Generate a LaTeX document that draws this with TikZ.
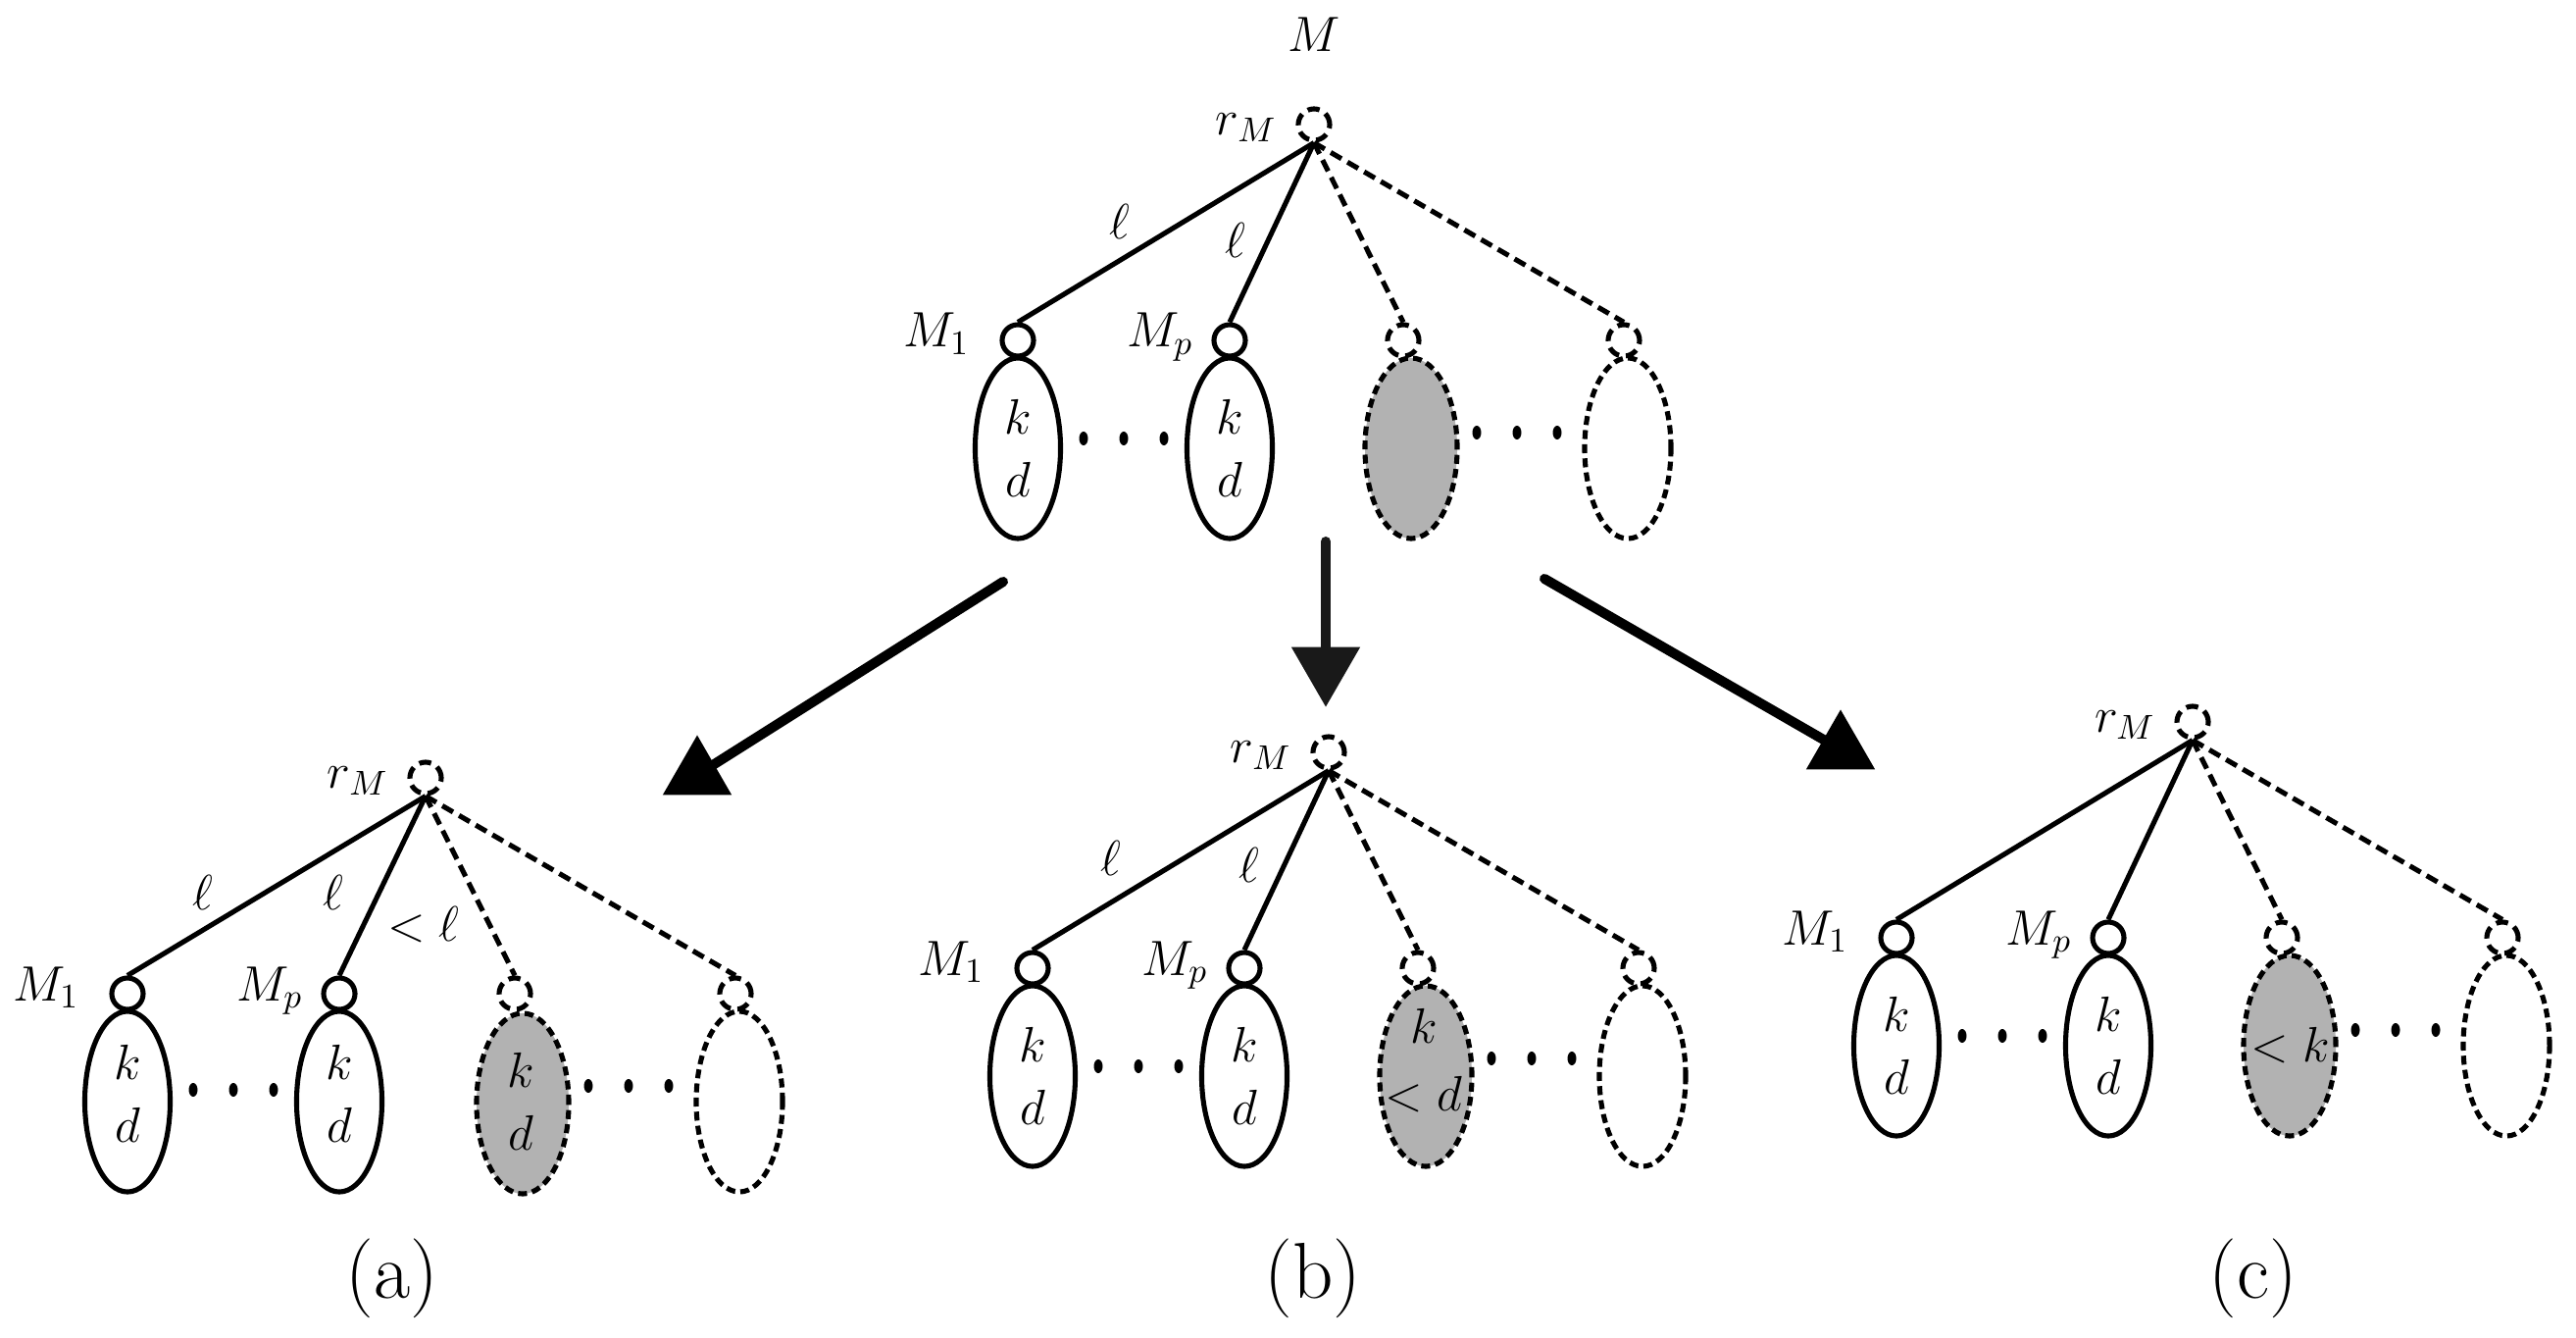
\documentclass[tikz,border=0pt]{standalone}
\usetikzlibrary{shapes.geometric}
\tikzset{
  lbl/.style={font=\fontsize{14.4}{18}\selectfont, inner sep=0pt},
  capt/.style={font=\fontsize{23}{28}\selectfont, inner sep=0pt},
  vtx/.style={circle, draw, line width=1.45pt, minimum size=0.32cm, inner sep=0pt},
  dvtx/.style={vtx, dash pattern=on 3.5pt off 2pt},
  blob/.style={ellipse, draw, line width=1.45pt, minimum width=0.87cm, minimum height=1.84cm, inner sep=0pt},
  dblob/.style={blob, dash pattern=on 2.6pt off 1.5pt, minimum width=0.88cm},
  gblob/.style={dblob, fill=black!30, minimum width=0.94cm},
  solidln/.style={line width=1.45pt},
  dashln/.style={line width=1.45pt, dash pattern=on 3.6pt off 2pt},
  dotn/.style={ellipse, fill, minimum width=0.09cm, minimum height=0.14cm, inner sep=0pt},
  bigarrow/.style={line width=2.85pt, line cap=round},
  head/.style={regular polygon, regular polygon sides=3, fill, minimum size=0.81cm, inner sep=0pt},
}
\begin{document}
\begin{tikzpicture}[x=0.01cm, y=-0.01cm]
\useasboundingbox (0,0) rectangle (2627,1364);

% ---------------- top tree ----------------
\node[lbl] (Mtop) at (1340,35) {$M$};
\begin{scope}[shift={(1340,127)}]
  \node[dvtx] (t-r) at (0,0) {};
  \node[lbl] (t-rl) at (-69,3) {$r_M$};
  \node[vtx] (t-1) at (-302,220) {};
  \node[vtx] (t-p) at (-86,220) {};
  \node[dvtx] (t-3) at (91,220) {};
  \node[dvtx] (t-4) at (316,220) {};
  \node[lbl, anchor=base] (t-1l) at (-385,227) {$M_1$};
  \node[lbl, anchor=base] (t-pl) at (-157,227) {$M_p$};
  \node[blob] (t-e1) at (-302,330) {};
  \node[blob] (t-ep) at (-86,330) {};
  \node[gblob] (t-e3) at (99,330) {};
  \node[dblob] (t-e4) at (320,330) {};
  \node[lbl, align=center] (t-x1) at (-302,330) {$k$\\$d$};
  \node[lbl, align=center] (t-xp) at (-86,330) {$k$\\$d$};
  \node[dotn] (t-d1) at (-235,320) {};
  \node[dotn] (t-d2) at (-194,320) {};
  \node[dotn] (t-d3) at (-153,320) {};
  \node[dotn] (t-d4) at (166,314) {};
  \node[dotn] (t-d5) at (207,314) {};
  \node[dotn] (t-d6) at (248,314) {};
  \draw[solidln] (t-r.south) -- (t-1.north);
  \draw[solidln] (t-r.south) -- (t-p.north);
  \draw[dashln] (t-r.south) -- (t-3.north);
  \draw[dashln] (t-r.south) -- (t-4.north);
  \node[lbl] (t-l1) at (-198,99) {$\ell$};
  \node[lbl] (t-l2) at (-80,118) {$\ell$};
\end{scope}

% ---------------- big arrows ----------------
\coordinate (la-s) at (1023,593);
\node[head] (la-h) at (711,790) {};
\draw[bigarrow] (la-s) -- (la-h.center);
\coordinate (da-s) at (1352,552);
\node[head, shape border rotate=180, black!90] (da-h) at (1352,680) {};
\draw[bigarrow, black!90] (da-s) -- (da-h.center);
\coordinate (ra-s) at (1575,590);
\node[head] (ra-h) at (1877,764) {};
\draw[bigarrow] (ra-s) -- (ra-h.center);

% ---------------- tree (a) ----------------
\begin{scope}[shift={(434,793)}]
  \node[dvtx] (a-r) at (0,0) {};
  \node[lbl] (a-rl) at (-69,3) {$r_M$};
  \node[vtx] (a-1) at (-304,220) {};
  \node[vtx] (a-p) at (-88,220) {};
  \node[dvtx] (a-3) at (91,220) {};
  \node[dvtx] (a-4) at (316,220) {};
  \node[lbl, anchor=base] (a-1l) at (-387,227) {$M_1$};
  \node[lbl, anchor=base] (a-pl) at (-159,227) {$M_p$};
  \node[blob] (a-e1) at (-304,330) {};
  \node[blob] (a-ep) at (-88,330) {};
  \node[gblob] (a-e3) at (99,332) {};
  \node[dblob] (a-e4) at (320,330) {};
  \node[lbl, align=center] (a-x1) at (-304,322) {$k$\\$d$};
  \node[lbl, align=center] (a-xp) at (-88,322) {$k$\\$d$};
  \node[lbl, align=center] (a-x3) at (97,330) {$k$\\$d$};
  \node[dotn] (a-d1) at (-237,318) {};
  \node[dotn] (a-d2) at (-196,318) {};
  \node[dotn] (a-d3) at (-155,318) {};
  \node[dotn] (a-d4) at (166,314) {};
  \node[dotn] (a-d5) at (207,314) {};
  \node[dotn] (a-d6) at (248,314) {};
  \draw[solidln] (a-r.south) -- (a-1.north);
  \draw[solidln] (a-r.south) -- (a-p.north);
  \draw[dashln] (a-r.south) -- (a-3.north);
  \draw[dashln] (a-r.south) -- (a-4.north);
  \node[lbl] (a-l1) at (-227,117) {$\ell$};
  \node[lbl] (a-l2) at (-94,117) {$\ell$};
  \node[lbl] (a-l3) at (-2,150) {$<\ell$};
\end{scope}
\node[capt] (cap-a) at (400,1303) {(a)};

% ---------------- tree (b) ----------------
\begin{scope}[shift={(1355,767)}]
  \node[dvtx] (b-r) at (0,0) {};
  \node[lbl] (b-rl) at (-69,3) {$r_M$};
  \node[vtx] (b-1) at (-302,220) {};
  \node[vtx] (b-p) at (-86,220) {};
  \node[dvtx] (b-3) at (91,220) {};
  \node[dvtx] (b-4) at (316,220) {};
  \node[lbl, anchor=base] (b-1l) at (-385,227) {$M_1$};
  \node[lbl, anchor=base] (b-pl) at (-157,227) {$M_p$};
  \node[blob] (b-e1) at (-302,330) {};
  \node[blob] (b-ep) at (-86,330) {};
  \node[gblob] (b-e3) at (99,330) {};
  \node[dblob] (b-e4) at (320,330) {};
  \node[lbl, align=center] (b-x1) at (-302,330) {$k$\\$d$};
  \node[lbl, align=center] (b-xp) at (-86,330) {$k$\\$d$};
  \node[lbl, anchor=base] (b-x3k) at (97,296) {$k$};
  \node[lbl, anchor=base] (b-x3d) at (97,365) {$<d$};
  \node[dotn] (b-d1) at (-235,320) {};
  \node[dotn] (b-d2) at (-194,320) {};
  \node[dotn] (b-d3) at (-153,320) {};
  \node[dotn] (b-d4) at (166,312) {};
  \node[dotn] (b-d5) at (207,312) {};
  \node[dotn] (b-d6) at (248,312) {};
  \draw[solidln] (b-r.south) -- (b-1.north);
  \draw[solidln] (b-r.south) -- (b-p.north);
  \draw[dashln] (b-r.south) -- (b-3.north);
  \draw[dashln] (b-r.south) -- (b-4.north);
  \node[lbl] (b-l1) at (-222,108) {$\ell$};
  \node[lbl] (b-l2) at (-81,115) {$\ell$};
\end{scope}
\node[capt] (cap-b) at (1339,1303) {(b)};

% ---------------- tree (c) ----------------
\begin{scope}[shift={(2236,736)}]
  \node[dvtx] (c-r) at (0,0) {};
  \node[lbl] (c-rl) at (-69,3) {$r_M$};
  \node[vtx] (c-1) at (-302,220) {};
  \node[vtx] (c-p) at (-86,220) {};
  \node[dvtx] (c-3) at (91,220) {};
  \node[dvtx] (c-4) at (316,220) {};
  \node[lbl, anchor=base] (c-1l) at (-385,227) {$M_1$};
  \node[lbl, anchor=base] (c-pl) at (-157,227) {$M_p$};
  \node[blob] (c-e1) at (-302,330) {};
  \node[blob] (c-ep) at (-86,330) {};
  \node[gblob] (c-e3) at (99,330) {};
  \node[dblob] (c-e4) at (320,330) {};
  \node[lbl, align=center] (c-x1) at (-302,330) {$k$\\$d$};
  \node[lbl, align=center] (c-xp) at (-86,330) {$k$\\$d$};
  \node[lbl] (c-x3) at (100,330) {$<k$};
  \node[dotn] (c-d1) at (-235,320) {};
  \node[dotn] (c-d2) at (-194,320) {};
  \node[dotn] (c-d3) at (-153,320) {};
  \node[dotn] (c-d4) at (166,314) {};
  \node[dotn] (c-d5) at (207,314) {};
  \node[dotn] (c-d6) at (248,314) {};
  \draw[solidln] (c-r.south) -- (c-1.north);
  \draw[solidln] (c-r.south) -- (c-p.north);
  \draw[dashln] (c-r.south) -- (c-3.north);
  \draw[dashln] (c-r.south) -- (c-4.north);
\end{scope}
\node[capt] (cap-c) at (2298,1303) {(c)};
\end{tikzpicture}
\end{document}
